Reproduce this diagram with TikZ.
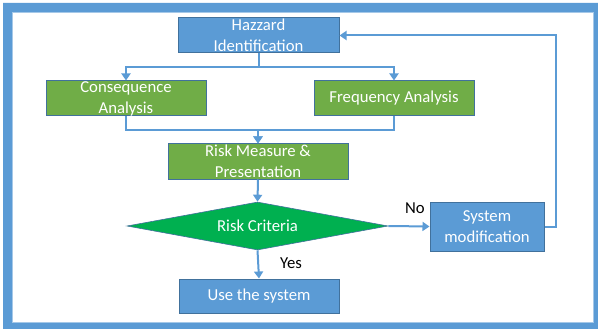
\documentclass[tikz,border=0pt]{standalone}
\usepackage{fontspec}
\setmainfont{Carlito}
\usetikzlibrary{arrows.meta,shapes.geometric}

\definecolor{boxblue}{HTML}{5B9BD5}
\definecolor{edgeblue}{HTML}{41719C}
\definecolor{boxgreen}{HTML}{70AD47}
\definecolor{diagreen}{HTML}{00B050}
\definecolor{frameblue}{HTML}{5B9BD5}

\tikzset{
  stepblue/.style={rectangle, draw=edgeblue, fill=boxblue, line width=1pt,
    text=white, font=\fontsize{16.7}{21}\selectfont, align=center,
    inner sep=0pt, minimum height=35pt},
  stepgreen/.style={stepblue, fill=boxgreen},
  decide/.style={diamond, draw=edgeblue, fill=diagreen, line width=0.6pt,
    text=white, font=\fontsize{16.7}{21}\selectfont, inner sep=0pt, aspect=5.4,
    minimum width=261pt, minimum height=48pt},
  link/.style={draw=boxblue, line width=2pt, -{Triangle[width=9pt,length=7pt]}},
  tag/.style={font=\fontsize{16.7}{21}\selectfont, text=black}
}

\begin{document}
\begin{tikzpicture}[x=1pt,y=-1pt]
\useasboundingbox (0,0) rectangle (598,329);

% outer frame
\fill[frameblue, even odd rule] (3,3) rectangle (598,329) (12,12) rectangle (593,322);
\draw[frameblue!55, line width=0.8pt] (12,12) rectangle (593,322);

% boxes
\node[stepblue, minimum width=161pt] (haz) at (258.5,35.5) {Hazzard\\Identification};
\node[stepgreen, minimum width=160pt] (cons) at (126,98.5) {Consequence\\Analysis};
\node[stepgreen, minimum width=160pt] (freq) at (394,98.5) {Frequency Analysis};
\node[stepgreen, minimum width=180pt] (rm) at (258,161.5) {Risk Measure \&\\Presentation};
\node[decide] (crit) at (257.5,226) {Risk Criteria};
\node[stepblue, minimum width=160pt, minimum height=34pt] (use) at (259,296) {Use the system};
\node[stepblue, minimum width=114pt, minimum height=49pt] (mod) at (487,226.5) {System\\modification};

% connectors
\draw[link] (haz.south) -- ++(0,14) coordinate (hsplit) -| (cons.north);
\draw[link] (hsplit) -| (freq.north);
\draw[link] (cons.south) -- ++(0,14) -| (rm.north);
\draw[link] (freq.south) -- ++(0,14) -| (rm.north);
\draw[link] (rm.south) -- (crit.north);
\draw[link] (crit.south) -- (use.north);
\draw[link] (crit.east) -- (mod.west);
\draw[link] (mod.east) -- ++(11,0) |- (haz.east);

% labels
\node[tag] (yes) at (291,263) {Yes};
\node[tag] (no) at (415,208) {No};

\end{tikzpicture}
\end{document}
